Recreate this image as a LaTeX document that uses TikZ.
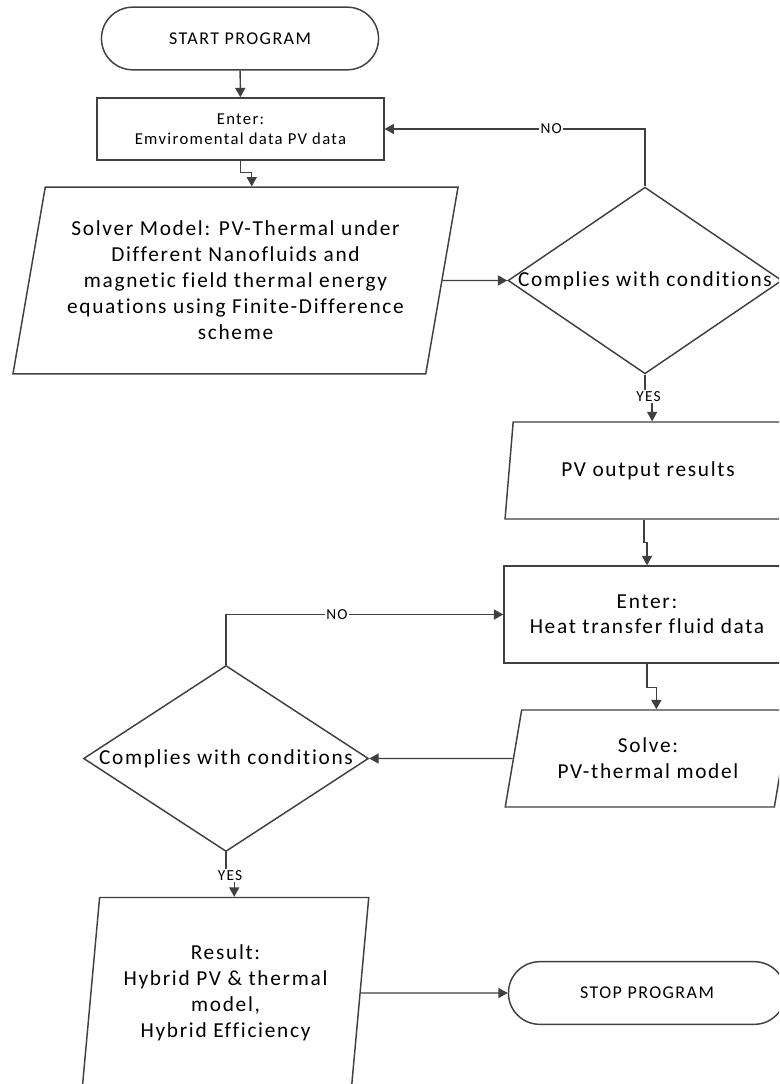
\documentclass[tikz,border=0pt]{standalone}
\usepackage{fontspec}
\setmainfont{Carlito}[LetterSpace=8,Ligatures=CommonOff]
\usetikzlibrary{shapes.geometric,shapes.misc,arrows.meta,calc,positioning}
\definecolor{linegray}{HTML}{404040}

\begin{document}
\begin{tikzpicture}[x=0.75pt,y=-0.75pt,
    line/.style={draw=linegray,line width=1.1pt},
    arrow/.style={line,-{Triangle[length=7pt,width=7.5pt]}},
    terminal/.style={line,rounded rectangle,minimum width=214.5pt,minimum height=47pt,
        font=\fontsize{13.5}{16}\selectfont},
    process/.style={line,rectangle,align=center,inner sep=0pt},
    io/.style={line,trapezium,trapezium stretches=true,align=center,inner sep=0pt,
        font=\fontsize{16}{19.5}\selectfont},
    decision/.style={line,diamond,inner sep=0pt,font=\fontsize{16}{19.5}\selectfont},
    lbl/.style={fill=white,inner sep=1pt,font=\fontsize{11.5}{13}\selectfont}]

    % Page
    \useasboundingbox (0,0) rectangle (779,1084);
    \clip (0,0) rectangle (779,1084);

    % Upper loop
    \node[terminal] (start) at (240,38.5) {START PROGRAM};
    \node[process,minimum width=215pt,minimum height=46.5pt,
        font=\fontsize{12.5}{15}\selectfont] (envdata) at (240.5,129)
        {Enter:\\ Emviromental data PV data};
    \node[io,trapezium left angle=76.5,trapezium right angle=103.5,
        minimum width=335pt,minimum height=140pt] (solver) at (235.5,280.5)
        {Solver Model: PV-Thermal under\\ Different Nanofluids and\\
         magnetic field thermal energy\\ equations using Finite-Difference\\ scheme};
    \node[decision,minimum width=205.5pt,minimum height=140pt] (check1) at (645,280.5)
        {\makebox[0pt]{Complies with conditions}};
    \node[io,trapezium left angle=74,trapezium right angle=106,
        minimum width=214.5pt,minimum height=72.75pt] (pvout) at (648,470.5)
        {PV output results};

    % Lower loop
    \node[process,minimum width=214.5pt,minimum height=72.75pt,
        font=\fontsize{16}{18.5}\selectfont] (fluid) at (647,614.5)
        {Enter:\\ Heat transfer fluid data};
    \node[io,trapezium left angle=74,trapezium right angle=106,
        minimum width=214.5pt,minimum height=72.75pt] (solve) at (648,758.5)
        {Solve:\\ PV-thermal model};
    \node[decision,minimum width=213.75pt,minimum height=139.5pt] (check2) at (226,758.5)
        {\makebox[0pt]{Complies with conditions}};
    \node[io,trapezium left angle=81.7,trapezium right angle=98.3,
        minimum width=215.25pt,minimum height=143.25pt] (result) at (225.5,993)
        {Result:\\ Hybrid PV \& thermal\\ model,\\ Hybrid Efficiency};
    \node[terminal] (stop) at (647,993) {STOP PROGRAM};

    % Connectors
    \draw[arrow] (start) -- (envdata);
    \draw[arrow] (envdata.south) -- ++(0,12) -| (solver.top side);
    \draw[arrow] (solver.east) -- (check1.west);
    \draw[arrow] (check1.north) |- node[lbl,pos=0.68] {NO} (envdata.east);
    \draw[arrow] (check1.south) -- ++(0,22) -| node[lbl,pos=0.25] {YES} (pvout.top side);
    \draw[arrow] (pvout.bottom side) -- ++(0,23) -| (fluid.north);
    \draw[arrow] (fluid.south) -- ++(0,24) -| (solve.top side);
    \draw[arrow] (solve.west) -- (check2.east);
    \draw[arrow] (check2.north) |- node[lbl,pos=0.7] {NO} (fluid.west);
    \draw[arrow] (check2.south) -- ++(0,23) -| node[lbl,pos=0.25] {YES} (result.top side);
    \draw[arrow] (result.east) -- (stop.west);
\end{tikzpicture}
\end{document}
